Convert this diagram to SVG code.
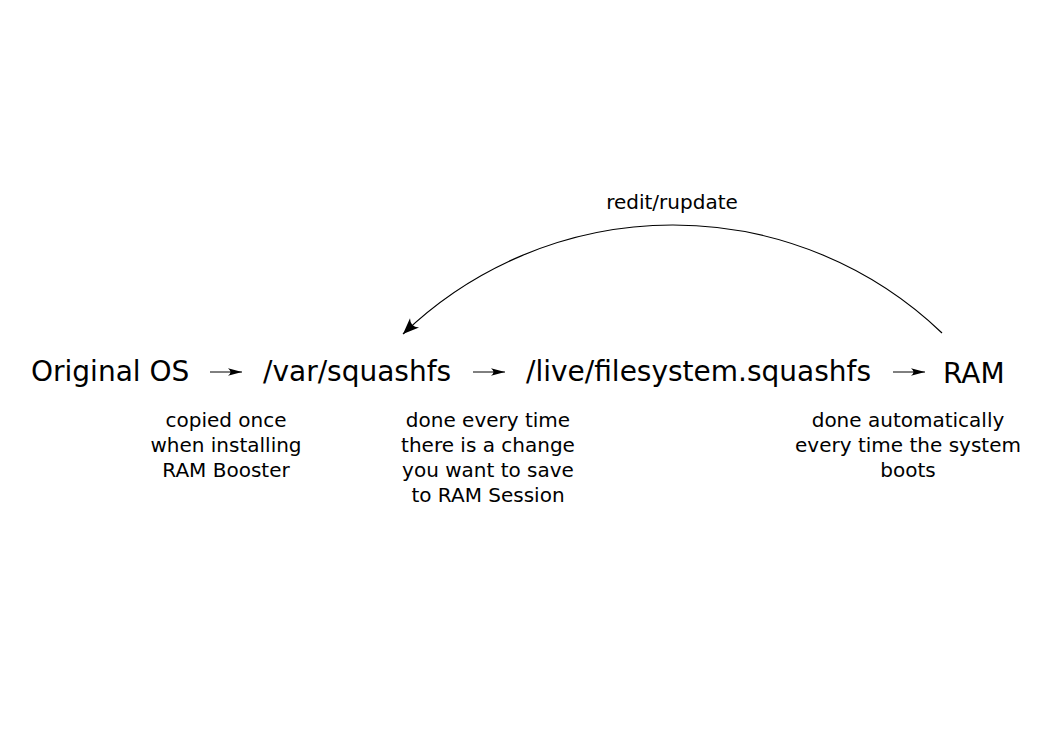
<svg xmlns="http://www.w3.org/2000/svg" width="1052" height="744" viewBox="0 0 1052 744">
<style>
.big{font-family:"DejaVu Sans",sans-serif;font-size:28px;fill:#000}
.small{font-family:"DejaVu Sans",sans-serif;font-size:20px;fill:#000;text-anchor:middle}
.conn{stroke:#000;stroke-width:1.2;fill:none}
.short{stroke:#000;stroke-width:1;fill:none}
</style>
<defs>
<marker id="ah" viewBox="-16 -6 18 12" markerWidth="18" markerHeight="12" refX="0" refY="0" orient="auto" markerUnits="userSpaceOnUse">
<path d="M0,0 L-14,-3.8 Q-9,0 -14,3.8 Z" fill="#000"/>
</marker>
<marker id="ah2" viewBox="-18 -8 20 16" markerWidth="20" markerHeight="16" refX="0" refY="0" orient="auto" markerUnits="userSpaceOnUse">
<path d="M0,0 L-16,-6.5 Q-10,0 -16,6.5 Z" fill="#000"/>
</marker>
</defs>
<rect width="1052" height="744" fill="#fff"/>
<g id="node-original-os"><text class="big" x="31" y="381">Original OS</text>
<text class="small"><tspan x="226" y="427">copied once</tspan><tspan x="226" y="452">when installing</tspan><tspan x="226" y="477">RAM Booster</tspan></text></g>
<g id="node-var-squashfs"><text class="big" x="263" y="381">/var/squashfs</text>
<text class="small"><tspan x="488" y="427">done every time</tspan><tspan x="488" y="452">there is a change</tspan><tspan x="488" y="477">you want to save</tspan><tspan x="488" y="502">to RAM Session</tspan></text></g>
<g id="node-live-filesystem"><text class="big" x="526" y="381">/live/filesystem.squashfs</text></g>
<g id="node-ram"><text class="big" x="943" y="383">RAM</text>
<text class="small"><tspan x="908" y="427">done automatically</tspan><tspan x="908" y="452">every time the system</tspan><tspan x="908" y="477">boots</tspan></text></g>
<g id="connectors">
<line class="short" x1="210" y1="372" x2="242" y2="372" marker-end="url(#ah)"/>
<line class="short" x1="473" y1="372" x2="505" y2="372" marker-end="url(#ah)"/>
<line class="short" x1="893" y1="372" x2="925" y2="372" marker-end="url(#ah)"/>
<path class="conn" d="M 942 333 A 389 389 0 0 0 403 334" marker-end="url(#ah2)"/>
<text class="small" x="672" y="209">redit/rupdate</text>
</g>
</svg>
